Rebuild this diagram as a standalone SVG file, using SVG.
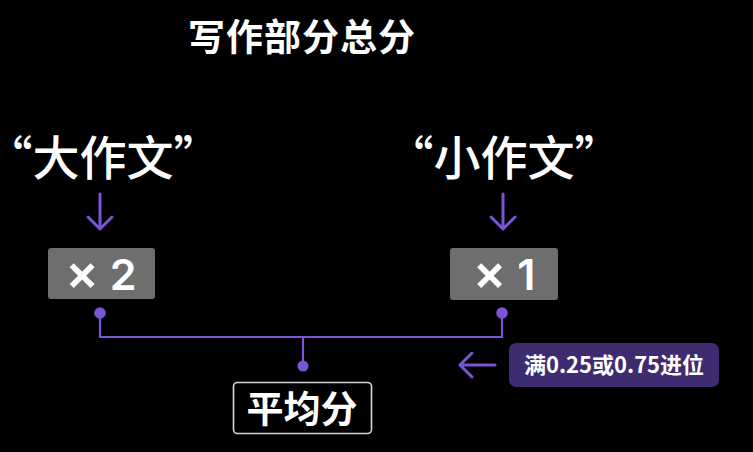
<svg xmlns="http://www.w3.org/2000/svg" width="753" height="452" viewBox="0 0 753 452">
<defs>
<style>
.t{font-family:"Noto Sans CJK SC","Noto Sans",sans-serif;fill:#ffffff;text-anchor:middle}
.n{font-family:Inter,"Noto Sans",sans-serif;fill:#ffffff;text-anchor:middle;font-weight:600}
.x{font-size:50px}
.b{font-weight:700}
.m{font-weight:500}
.pl{stroke:#7a55d6;stroke-width:2.2;fill:none}
.ar{stroke:#7a55d6;stroke-width:3;fill:none;stroke-linecap:round;stroke-linejoin:round}
.dot{fill:#7a55d6}
.gbox{fill:#6e6e6e}
</style>
</defs>
<rect x="0" y="0" width="753" height="452" fill="#000000"/>
<g id="title"><text class="t b" x="302" y="51" font-size="37" letter-spacing="1">写作部分总分</text></g>
<g id="big-essay">
<text class="t m" x="103" y="175" font-size="47">“大作文”</text>
</g>
<g id="small-essay">
<text class="t m" x="504" y="175" font-size="47">“小作文”</text>
</g>
<g id="x2">
<rect class="gbox" x="48" y="248" width="107" height="51" rx="3"/>
<text class="n" x="101" y="290" font-size="43"><tspan class="x">×</tspan> 2</text>
</g>
<g id="x1">
<rect class="gbox" x="450" y="248" width="108" height="52" rx="3"/>
<text class="n" x="504" y="290" font-size="43"><tspan class="x">×</tspan> 1</text>
</g>
<g id="avg">
<rect x="233.5" y="382.5" width="138" height="51" rx="4" fill="#000000" stroke="#d8d8d8" stroke-width="1.6"/>
<text class="t b" x="302" y="423" font-size="37">平均分</text>
</g>
<g id="note">
<rect x="509" y="343" width="210" height="44" rx="7" fill="#3e2b70"/>
<text class="t b" x="614" y="373" font-size="22">满0.25或0.75进位</text>
</g>
<g id="connectors">
<path class="ar" d="M100 194 V229 M88 217 L100 229 L112 217"/>
<path class="ar" d="M503 194 V229 M491 217 L503 229 L515 217"/>
<path class="pl" d="M100 313 V337 H502 V313 M303 337 V366"/>
<circle class="dot" cx="100" cy="313" r="5.8"/>
<circle class="dot" cx="502" cy="313" r="5.8"/>
<circle class="dot" cx="303" cy="366" r="5.5"/>
<path class="ar" d="M495 365 H460 M472 353 L460 365 L472 377"/>
</g>
</svg>
